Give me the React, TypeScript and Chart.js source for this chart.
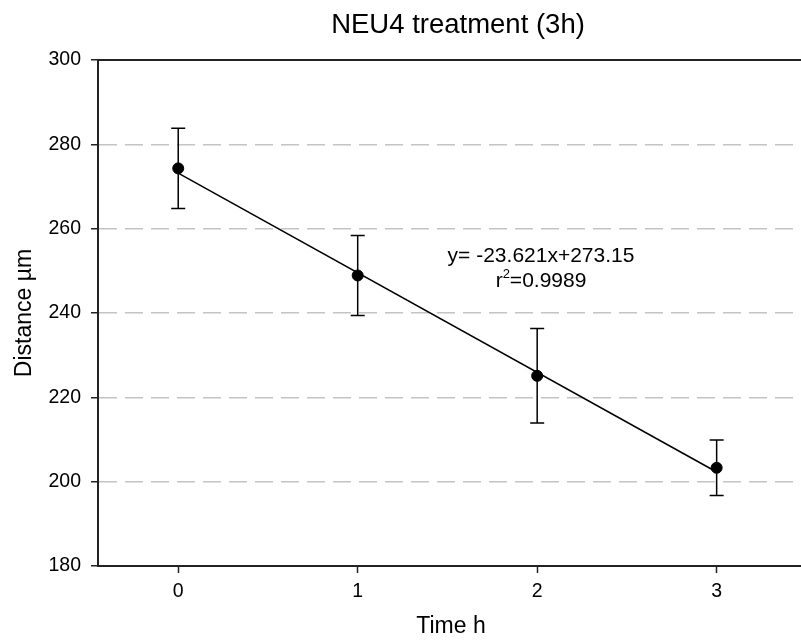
import React, { useEffect, useRef } from "react";
import { Chart, registerables } from "chart.js";

Chart.register(...registerables);

// Measurements: mean distance per time point with SD
const timeHours = [0, 1, 2, 3];
const meanDistance = [274.3, 248.9, 225.1, 203.3];
const sdDistance = [9.5, 9.5, 11.2, 6.6];

// Linear fit reported on the chart
const fitSlope = -23.621;
const fitIntercept = 273.15;
const fitR2 = "0.9989";

const xTicks = [0, 1, 2, 3];
const yTicks = [180, 200, 220, 240, 260, 280, 300];

const FONT = "'Liberation Sans', Arial, Helvetica, sans-serif";
const AXIS_COLOR = "#222";

const errorBars = {
  id: "errorBars",
  beforeDatasetsDraw(chart: any) {
    const { ctx, scales } = chart;
    const xs = scales.x;
    const ys = scales.y;
    ctx.save();
    ctx.strokeStyle = "#000";
    ctx.lineWidth = 1.5;
    timeHours.forEach((t, i) => {
      const px = xs.getPixelForValue(t);
      const top = ys.getPixelForValue(meanDistance[i] + sdDistance[i]);
      const bot = ys.getPixelForValue(meanDistance[i] - sdDistance[i]);
      const cap = 7;
      ctx.beginPath();
      ctx.moveTo(px, top);
      ctx.lineTo(px, bot);
      ctx.moveTo(px - cap, top);
      ctx.lineTo(px + cap, top);
      ctx.moveTo(px - cap, bot);
      ctx.lineTo(px + cap, bot);
      ctx.stroke();
    });
    ctx.restore();
  },
};

const decorations = {
  id: "decorations",
  afterDraw(chart: any) {
    const { ctx, chartArea: a } = chart;
    ctx.save();

    // frame line along the top of the plot
    ctx.strokeStyle = AXIS_COLOR;
    ctx.lineWidth = 2;
    ctx.beginPath();
    ctx.moveTo(a.left - 1, a.top);
    ctx.lineTo(a.right, a.top);
    ctx.stroke();

    ctx.fillStyle = "#000";

    // chart title
    ctx.font = `27.5px ${FONT}`;
    ctx.textAlign = "center";
    ctx.textBaseline = "alphabetic";
    ctx.fillText("NEU4 treatment (3h)", 458, 33);

    // axis titles
    ctx.font = `23px ${FONT}`;
    ctx.fillText("Time h", 451, 633);
    ctx.save();
    ctx.translate(30.5, (a.top + a.bottom) / 2);
    ctx.rotate(-Math.PI / 2);
    ctx.fillText("Distance \u00b5m", 0, 0);
    ctx.restore();

    // regression equation
    const cx = 541;
    ctx.font = `21px ${FONT}`;
    ctx.textAlign = "center";
    ctx.fillText(`y= ${fitSlope}x+${fitIntercept}`, cx, 262);

    ctx.textAlign = "left";
    const big = `21px ${FONT}`;
    const small = `13px ${FONT}`;
    ctx.font = big;
    const wr = ctx.measureText("r").width;
    const wRest = ctx.measureText(`=${fitR2}`).width;
    ctx.font = small;
    const w2 = ctx.measureText("2").width;
    const total = wr + w2 + wRest;
    let x = cx - total / 2;
    const base = 286.5;
    ctx.font = big;
    ctx.fillText("r", x, base);
    x += wr;
    ctx.font = small;
    ctx.fillText("2", x, base - 9);
    x += w2;
    ctx.font = big;
    ctx.fillText(`=${fitR2}`, x, base);

    ctx.restore();
  },
};

export default function App() {
  const canvasRef = useRef<HTMLCanvasElement | null>(null);

  useEffect(() => {
    if (!canvasRef.current) return;
    const fitX0 = timeHours[0];
    const fitX1 = timeHours[timeHours.length - 1];

    const chart = new Chart(canvasRef.current, {
      type: "scatter",
      data: {
        datasets: [
          {
            label: "Distance",
            data: timeHours.map((t, i) => ({ x: t, y: meanDistance[i] })),
            backgroundColor: "#000",
            borderColor: "#000",
            pointRadius: 5.5,
            pointHoverRadius: 5.5,
            order: 0,
          },
          {
            type: "line",
            label: "Fit",
            data: [
              { x: fitX0, y: fitSlope * fitX0 + fitIntercept },
              { x: fitX1, y: fitSlope * fitX1 + fitIntercept },
            ],
            borderColor: "#000",
            borderWidth: 1.5,
            pointRadius: 0,
            fill: false,
            order: 1,
          } as any,
        ],
      },
      options: {
        responsive: false,
        animation: false,
        layout: { autoPadding: false, padding: { top: 60, left: 0, right: 0, bottom: 0 } },
        plugins: {
          legend: { display: false },
          title: { display: false },
          tooltip: { enabled: false },
        },
        scales: {
          x: {
            type: "linear",
            min: -0.447,
            max: 3.47,
            afterBuildTicks: (scale: any) => {
              scale.ticks = xTicks.map((v) => ({ value: v }));
            },
            afterFit: (scale: any) => {
              scale.height = 75;
              scale.paddingLeft = 0;
              scale.paddingRight = 0;
            },
            grid: {
              display: true,
              drawOnChartArea: false,
              drawTicks: true,
              tickLength: 7,
              tickColor: AXIS_COLOR,
              tickWidth: 1.5,
            },
            border: { display: true, color: AXIS_COLOR, width: 2 },
            ticks: {
              color: "#000",
              font: { family: FONT, size: 19.5 },
              padding: 7,
              maxRotation: 0,
              callback: (v: any) => String(v),
            },
          },
          y: {
            type: "linear",
            min: 180,
            max: 300,
            afterBuildTicks: (scale: any) => {
              scale.ticks = yTicks.map((v) => ({ value: v }));
            },
            afterFit: (scale: any) => {
              scale.width = 98;
            },
            grid: {
              display: true,
              drawOnChartArea: true,
              drawTicks: true,
              tickLength: 7,
              tickColor: AXIS_COLOR,
              tickWidth: 1.5,
              lineWidth: 1.5,
              color: (ctx: any) => {
                const v = ctx.tick && ctx.tick.value;
                return v === 180 || v === 300 ? "rgba(0,0,0,0)" : "#c4c4c4";
              },
            },
            border: { display: true, color: AXIS_COLOR, width: 2, dash: [18, 8] },
            ticks: {
              color: "#000",
              font: { family: FONT, size: 19.5 },
              padding: 10,
              callback: (v: any) => String(v),
            },
          },
        },
      },
      plugins: [errorBars, decorations],
    });

    return () => chart.destroy();
  }, []);

  return (
    <div style={{ position: "fixed", left: 0, top: 0, width: 801, height: 641, background: "#fff" }}>
      <canvas ref={canvasRef} width={801} height={641} style={{ display: "block" }} />
    </div>
  );
}
